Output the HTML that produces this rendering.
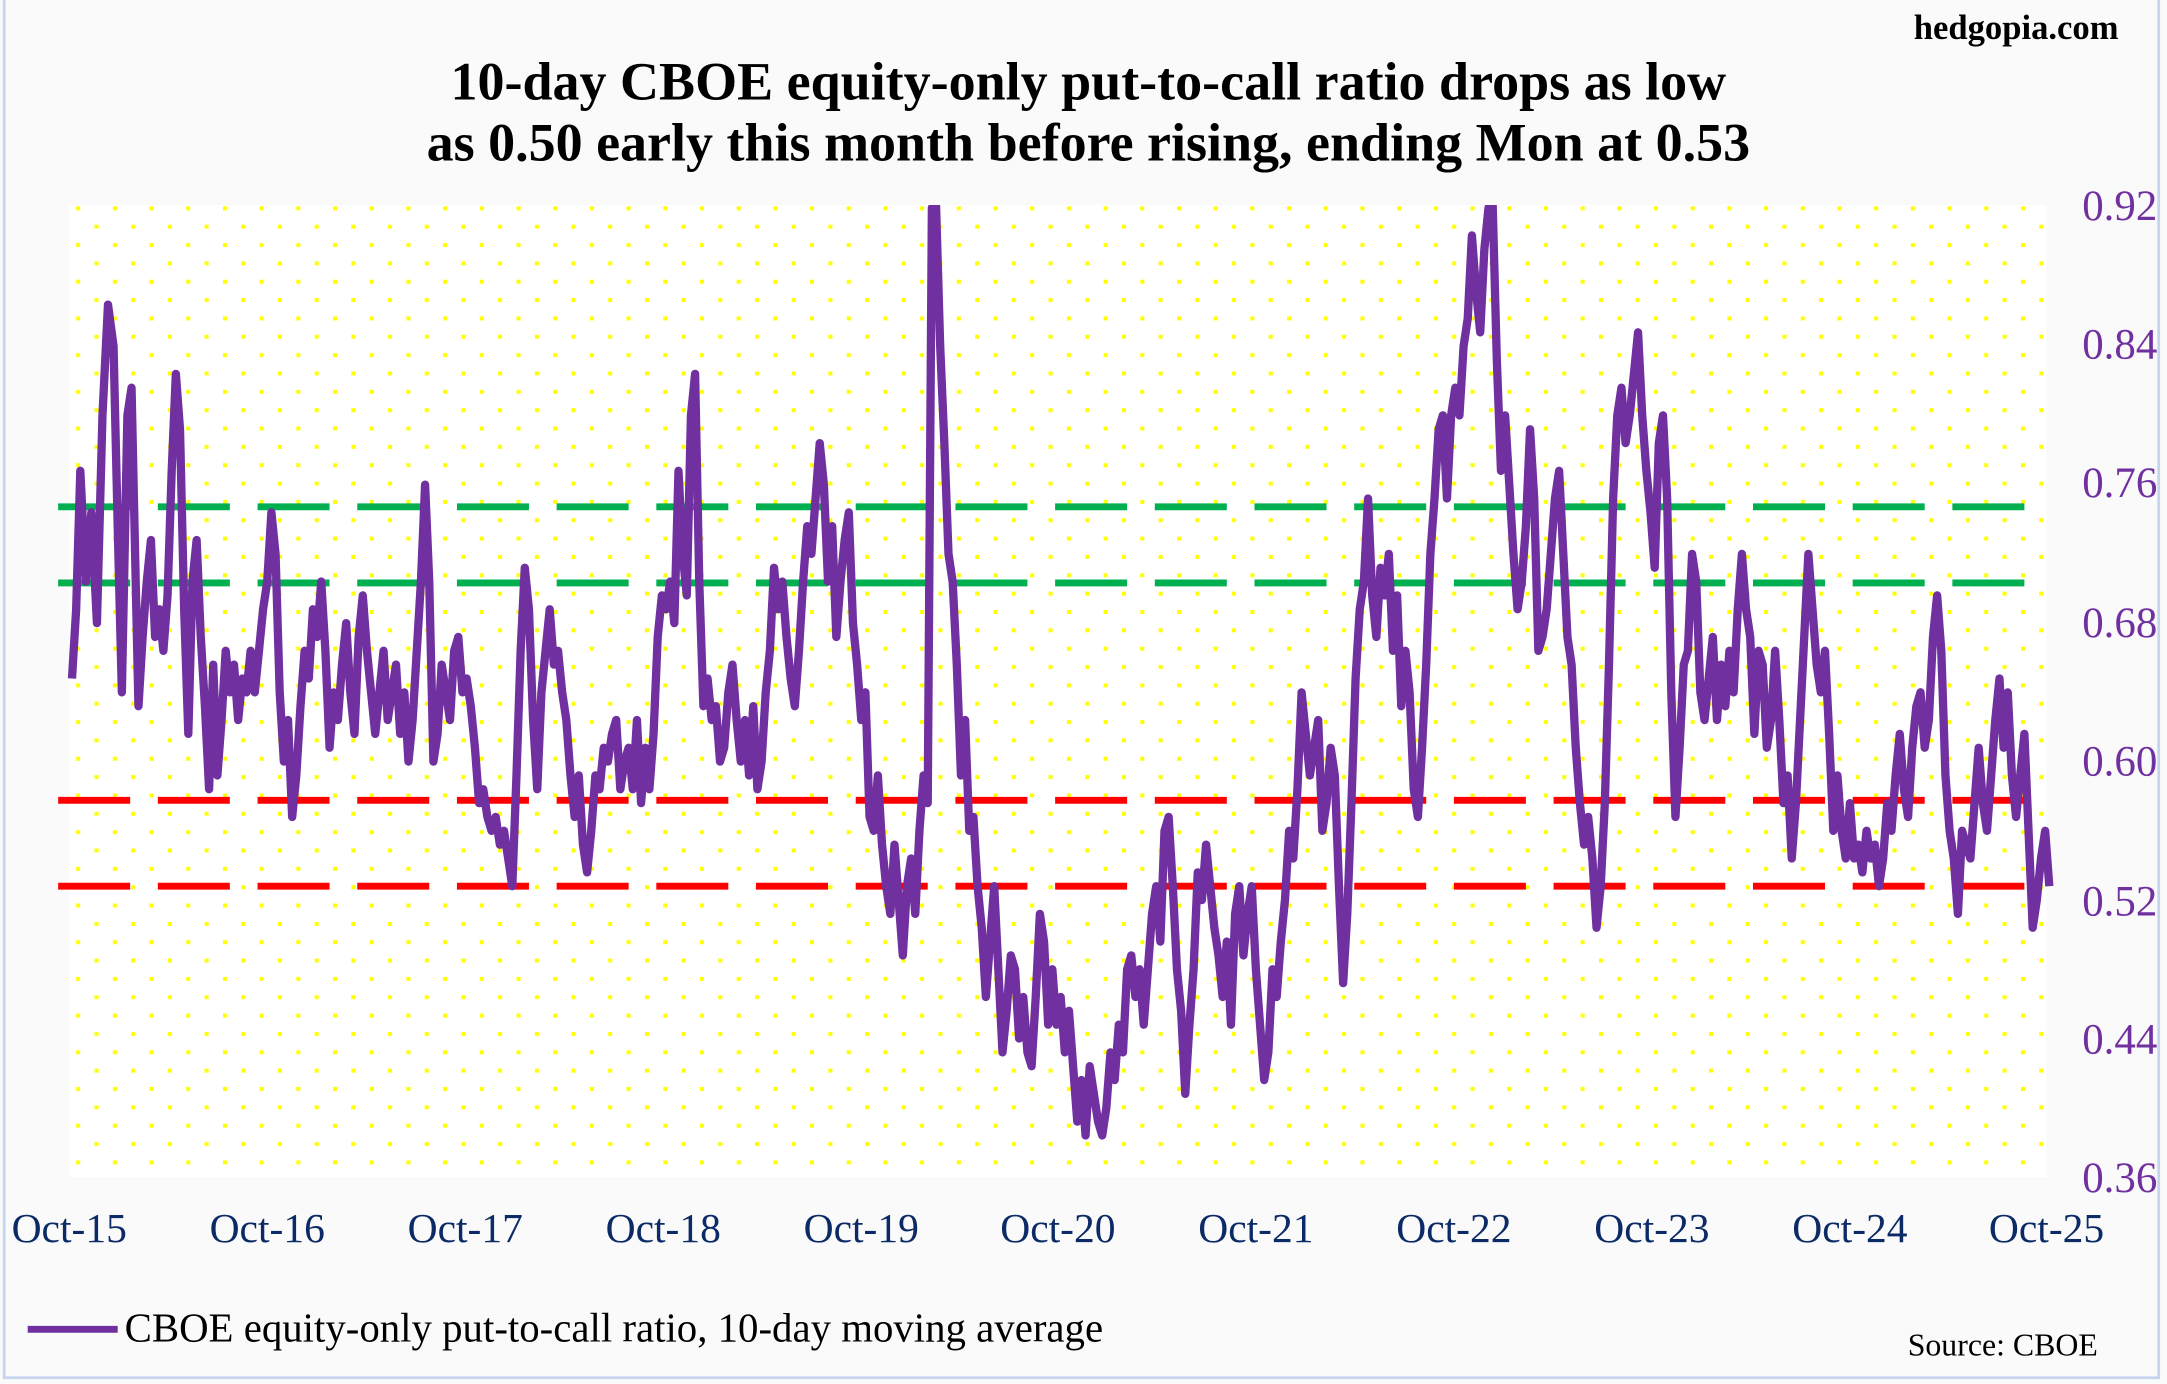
<!DOCTYPE html>
<html><head><meta charset="utf-8"><style>html,body{margin:0;padding:0;background:#fafafa}svg{display:block}</style></head>
<body>
<svg width="2167" height="1384" viewBox="0 0 1565 999.5" xmlns="http://www.w3.org/2000/svg" font-family="Liberation Serif, serif">
<defs>
<pattern id="dots" x="50" y="148" width="26.5" height="26.5" patternUnits="userSpaceOnUse">
<rect x="0" y="0" width="26.5" height="26.5" fill="#fff"/>
<rect x="5" y="1" width="2.9" height="2.9" fill="#ffff00"/>
<rect x="18.25" y="14.25" width="2.9" height="2.9" fill="#ffff00"/>
</pattern>
<clipPath id="cp"><rect x="40" y="148" width="1445" height="703"/></clipPath>
</defs>
<rect x="0" y="0" width="1565" height="999.5" fill="#fafafa"/>
<rect x="3" y="-5" width="1556" height="1000" fill="none" stroke="#c5d5ee" stroke-width="2"/>
<rect x="50" y="148" width="1428" height="702" fill="url(#dots)"/>
<text x="1530" y="28" text-anchor="end" font-weight="bold" font-size="25">hedgopia.com</text>
<text x="786" y="72" text-anchor="middle" font-weight="bold" font-size="39">10-day CBOE equity-only put-to-call ratio drops as low</text>
<text x="786" y="116" text-anchor="middle" font-weight="bold" font-size="39">as 0.50 early this month before rising, ending Mon at 0.53</text>
<g fill="#7030a0" font-size="31" text-anchor="end">
<text x="1558" y="159">0.92</text><text x="1558" y="259">0.84</text><text x="1558" y="359">0.76</text><text x="1558" y="460">0.68</text><text x="1558" y="560">0.60</text><text x="1558" y="661">0.52</text><text x="1558" y="861">0.36</text><text x="1558" y="761">0.44</text>
</g>
<g fill="#0b2a66" font-size="30" text-anchor="middle">
<text x="50" y="897">Oct-15</text><text x="193" y="897">Oct-16</text><text x="336" y="897">Oct-17</text><text x="479" y="897">Oct-18</text><text x="622" y="897">Oct-19</text><text x="764" y="897">Oct-20</text><text x="907" y="897">Oct-21</text><text x="1050" y="897">Oct-22</text><text x="1193" y="897">Oct-23</text><text x="1336" y="897">Oct-24</text><text x="1478" y="897">Oct-25</text>
</g>
<g stroke-width="5" stroke-dasharray="52 20" fill="none">
<line x1="42" y1="366" x2="1482" y2="366" stroke="#00b050"/>
<line x1="42" y1="421" x2="1482" y2="421" stroke="#00b050"/>
<line x1="42" y1="578" x2="1482" y2="578" stroke="#ff0000"/>
<line x1="42" y1="640" x2="1482" y2="640" stroke="#ff0000"/>
</g>
<polyline clip-path="url(#cp)" fill="none" stroke="#7030a0" stroke-width="6" stroke-linejoin="round" points="52,490 55,440 58,340 62,420 66,370 70,450 74,300 78,220 82,250 85,380 88,500 92,300 95,280 98,420 100,510 103,460 106,420 109,390 112,460 115,440 118,470 121,430 124,340 127,270 130,310 133,440 136,530 139,420 142,390 145,460 148,510 151,570 154,480 157,560 160,520 163,470 166,500 169,480 172,520 175,490 178,500 181,470 184,500 187,470 190,440 193,420 196,370 199,400 202,500 205,550 208,520 211,590 214,560 217,510 220,470 223,490 226,440 229,460 232,420 235,470 238,540 241,500 244,520 247,480 250,450 253,500 256,530 259,460 262,430 265,470 268,500 271,530 274,500 277,470 280,520 283,500 286,480 289,530 292,500 295,550 298,520 301,470 304,420 307,350 310,420 313,550 316,530 319,480 322,500 325,520 328,470 331,460 334,500 337,490 340,510 343,540 346,580 349,570 352,590 355,600 358,590 361,610 364,600 367,620 370,640 373,560 376,470 379,410 382,440 385,520 388,570 391,500 394,470 397,440 400,480 403,470 406,500 409,520 412,560 415,590 418,560 421,610 424,630 427,600 430,560 433,570 436,540 439,550 442,530 445,520 448,570 451,550 454,540 457,570 460,520 463,580 466,540 469,570 472,530 475,460 478,430 481,440 484,420 487,450 490,340 493,400 496,430 499,300 502,270 505,420 508,510 511,490 514,520 517,510 520,550 523,540 526,500 529,480 532,520 535,550 538,520 541,560 544,510 547,570 550,550 553,500 556,470 559,410 562,440 565,420 568,460 571,490 574,510 577,470 580,420 583,380 586,400 589,360 592,320 595,350 598,420 601,380 604,460 607,420 610,390 613,370 616,450 619,480 622,520 625,500 628,590 631,600 634,560 637,610 640,640 643,660 646,610 649,650 652,690 655,640 658,620 661,660 664,600 667,560 670,580 673,150 676,148 679,250 682,320 685,400 688,420 691,480 694,560 697,520 700,600 703,590 706,640 709,670 712,720 715,680 718,640 721,700 724,760 727,730 730,690 733,700 736,750 739,720 742,760 745,770 748,720 751,660 754,680 757,740 760,700 763,740 766,720 769,760 772,730 775,770 778,810 781,780 784,820 787,770 790,790 793,810 796,820 799,800 802,760 805,780 808,740 811,760 814,700 817,690 820,720 823,700 826,740 829,700 832,660 835,640 838,680 841,600 844,590 847,640 850,700 853,730 856,790 859,740 862,700 865,630 868,650 871,610 874,640 877,670 880,690 883,720 886,680 889,740 892,660 895,640 898,690 901,660 904,640 907,700 910,740 913,780 916,760 919,700 922,720 925,680 928,650 931,600 934,620 937,570 940,500 943,530 946,560 949,540 952,520 955,600 958,580 961,540 964,560 967,640 970,710 973,660 976,580 979,490 982,440 985,420 988,360 991,430 994,460 997,410 1000,430 1003,400 1006,470 1009,430 1012,510 1015,470 1018,500 1021,570 1024,590 1027,540 1030,480 1033,400 1036,360 1039,310 1042,300 1045,360 1048,300 1051,280 1054,300 1057,250 1060,230 1063,170 1066,210 1069,240 1072,180 1075,150 1078,148 1081,260 1084,340 1087,300 1090,350 1093,400 1096,440 1099,420 1102,380 1105,310 1108,360 1111,470 1114,460 1117,440 1120,400 1123,360 1126,340 1129,400 1132,460 1135,480 1138,540 1141,580 1144,610 1147,590 1150,620 1153,670 1156,640 1159,580 1162,480 1165,360 1168,300 1171,280 1174,320 1177,300 1180,270 1183,240 1186,300 1189,340 1192,370 1195,410 1198,320 1201,300 1204,360 1207,500 1210,590 1213,540 1216,480 1219,470 1222,400 1225,420 1228,500 1231,520 1234,490 1237,460 1240,520 1243,480 1246,510 1249,470 1252,500 1255,440 1258,400 1261,440 1264,460 1267,530 1270,470 1273,480 1276,540 1279,520 1282,470 1285,520 1288,580 1291,560 1294,620 1297,580 1300,520 1303,460 1306,400 1309,440 1312,480 1315,500 1318,470 1321,530 1324,600 1327,560 1330,600 1333,620 1336,580 1339,620 1342,610 1345,630 1348,600 1351,620 1354,610 1357,640 1360,620 1363,580 1366,600 1369,560 1372,530 1375,570 1378,590 1381,540 1384,510 1387,500 1390,540 1393,520 1396,460 1399,430 1402,470 1405,560 1408,600 1411,620 1414,660 1417,600 1420,610 1423,620 1426,580 1429,540 1432,580 1435,600 1438,560 1441,520 1444,490 1447,540 1450,500 1453,560 1456,590 1459,560 1462,530 1465,600 1468,670 1471,650 1474,620 1477,600 1480,640"/>
<line x1="20" y1="960" x2="85" y2="960" stroke="#7030a0" stroke-width="5"/>
<text x="90" y="969" font-size="29.5" fill="#000">CBOE equity-only put-to-call ratio, 10-day moving average</text>
<text x="1515" y="979" text-anchor="end" font-size="23" fill="#000">Source: CBOE</text>
</svg>
</body></html>
